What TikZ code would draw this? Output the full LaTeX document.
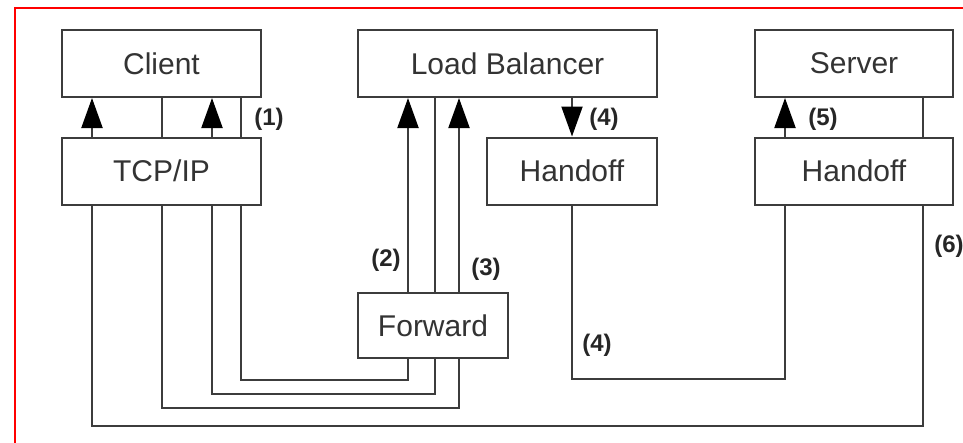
\documentclass[tikz,border=0pt]{standalone}
\usepackage{fontspec}
\setmainfont{Liberation Sans}
\usetikzlibrary{arrows.meta}
\definecolor{wire}{HTML}{3C3C3C}

\begin{document}
\begin{tikzpicture}[x=1pt,y=-1pt]
\tikzstyle{layer}=
[
	draw=wire, line width=2pt, fill=white,
	minimum height=67pt, inner sep=0pt,
	text=black!80, font=\fontsize{30}{34}\selectfont
]
\tikzstyle{flow}=[draw=wire, line width=2pt]
\tikzstyle{push}=[flow, -{Triangle[length=30pt,width=21pt,color=black]}]
\tikzstyle{tag}=[inner sep=0pt, text=black!85, font=\bfseries\fontsize{24}{24}\selectfont]

\useasboundingbox (0,0) rectangle (963,442);
\draw[red, line width=2pt] (15,470) -- (15,8) -- (990,8);

\node[layer, minimum width=199pt] (client) at (161.5,63.5) {Client};
\node[layer, minimum width=199pt] (tcpip) at (161.5,171) {TCP/IP};
\node[layer, minimum width=299pt] (lb) at (507.5,63.5) {Load Balancer};
\node[layer, minimum width=170pt] (lbhand) at (572,171) {Handoff};
\node[layer, minimum width=198pt] (server) at (854,63.5) {Server};
\node[layer, minimum width=198pt] (srvhand) at (854,171) {Handoff};
\node[layer, minimum width=150pt, minimum height=65pt] (fwd) at (433,325.5) {Forward};

% vertical lanes
\coordinate (la) at (92,0);
\coordinate (lb1) at (162,0);
\coordinate (lc) at (212,0);
\coordinate (ld) at (241,0);
\coordinate (le) at (408,0);
\coordinate (lf) at (435,0);
\coordinate (lg) at (459,0);
\coordinate (lh) at (572,0);
\coordinate (li) at (785,0);
\coordinate (lj) at (923,0);

% client <-> tcp/ip
\draw[push] (tcpip.north -| la) -- (client.south -| la);
\draw[flow] (client.south -| lb1) -- (tcpip.north -| lb1);
\draw[push] (tcpip.north -| lc) -- (client.south -| lc);
\draw[flow] (client.south -| ld) -- (tcpip.north -| ld);

% tcp/ip -> forward -> load balancer
\draw[flow] (tcpip.south -| ld) -- ++(0,174) -| (fwd.south -| le);
\draw[flow] (tcpip.south -| lc) -- ++(0,188) -| (fwd.south -| lf);
\draw[flow] (tcpip.south -| lb1) -- ++(0,202) -| (fwd.south -| lg);
\draw[push] (fwd.north -| le) -- (lb.south -| le);
\draw[flow] (fwd.north -| lf) -- (lb.south -| lf);
\draw[push] (fwd.north -| lg) -- (lb.south -| lg);

% handoff
\draw[push] (lb.south -| lh) -- (lbhand.north -| lh);
\draw[flow] (lbhand.south -| lh) -- ++(0,173) -| (srvhand.south -| li);
\draw[push] (srvhand.north -| li) -- (server.south -| li);

% server -> tcp/ip
\draw[flow] (server.south -| lj) -- (srvhand.north -| lj);
\draw[flow] (srvhand.south -| lj) -- ++(0,220) -| (tcpip.south -| la);

\node[tag] (t1) at (269,119) {(1)};
\node[tag] (t2) at (386,260) {(2)};
\node[tag] (t3) at (486,269) {(3)};
\node[tag] (t4a) at (604,119) {(4)};
\node[tag] (t4b) at (597,345) {(4)};
\node[tag] (t5) at (823,119) {(5)};
\node[tag] (t6) at (949,246) {(6)};
\end{tikzpicture}
\end{document}
